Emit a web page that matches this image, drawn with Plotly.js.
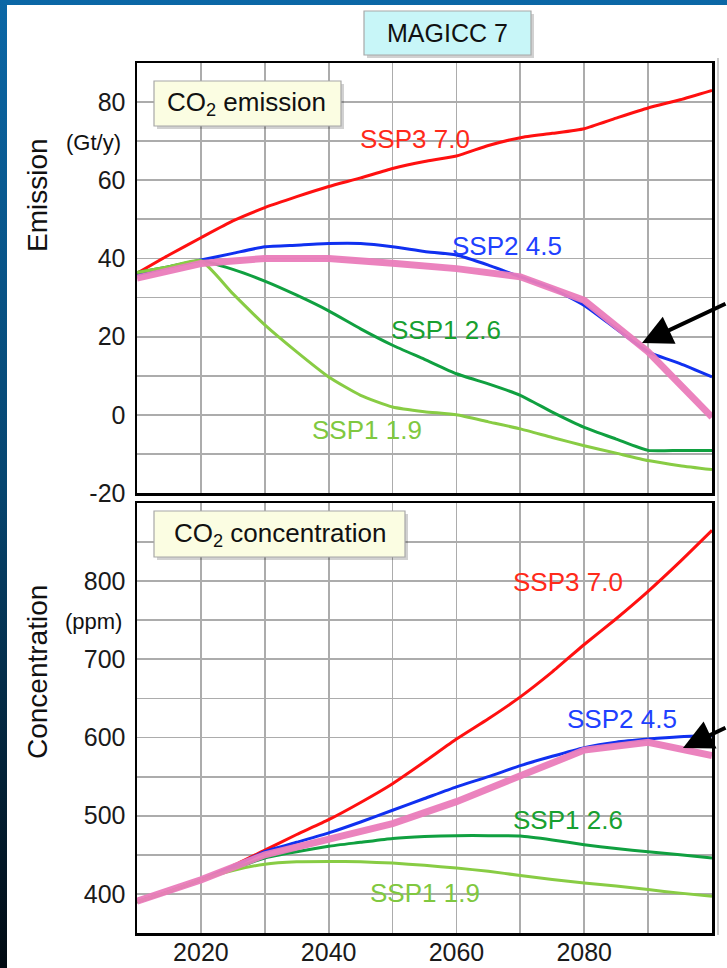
<!DOCTYPE html>
<html>
<head>
<meta charset="utf-8">
<script src="https://cdn.plot.ly/plotly-3.0.1.min.js"></script>
<style>
html,body{margin:0;padding:0;width:727px;height:968px;overflow:hidden;}
body{background:linear-gradient(to bottom,#0b67a6 0%,#06456f 50%,#010a12 100%);position:relative;}
#paper{position:absolute;left:7px;top:5px;width:720px;height:963px;background:#fff;}
#chart{position:absolute;left:0;top:0;width:727px;height:968px;}
</style>
</head>
<body>
<div id="paper"></div>
<div id="chart"></div>
<script>
// ---- data ----
const years = [2010,2015,2020,2025,2030,2035,2040,2045,2050,2055,2060,2065,2070,2075,2080,2085,2090,2095,2100];
const years10 = [2010,2020,2030,2040,2050,2060,2070,2080,2090,2100];
const xTickVals = [2020,2040,2060,2080];
const emiTickVals = [-20,0,20,40,60,80];
const emiTickText = ['-20','0','20','40','60','80'];
const conTickVals = [400,500,600,700,800];

// CO2 emission (Gt/y)
const emiSSP370 = [36.2,40.9,45.3,49.6,53.0,55.8,58.4,60.6,63.0,64.8,66.2,68.9,70.9,72.0,73.2,75.9,78.5,80.6,83.0];
const emiSSP245 = [35.8,37.8,39.6,41.3,43.0,43.4,43.8,43.8,43.0,41.8,40.9,38.3,35.3,32.3,28.0,22.0,16.1,13.1,9.7];
const emiSSP126 = [36.4,37.9,39.4,37.2,34.2,30.6,26.6,22.0,17.8,14.2,10.5,7.9,5.0,0.7,-3.2,-6.2,-9.1,-9.1,-9.1];
const emiSSP119 = [36.4,37.9,39.4,31.0,23.0,16.1,9.7,5.0,2.0,0.8,0.0,-1.8,-3.6,-5.8,-7.9,-9.8,-11.7,-13.0,-14.0];
const emiOther  = [35.0,38.7,40.0,40.0,38.8,37.4,35.3,29.3,16.1,-0.6];

// CO2 concentration (ppm)
const conSSP370 = [390,403,418,436,456,476,495,517,541,569,598,624,652,684,719,752,787,825,865];
const conSSP245 = [390,403,418,435,454,466,478,492,507,522,537,550,564,576,587,594,598,601,602.5];
const conSSP126 = [390,403,418,432,446,454,461,466,471,473.5,474.5,474.5,474,469,463,458,454,450,446];
const conSSP119 = [390,403,418,430,438,441,441.5,441,439.4,436.5,433,429,423.5,418.5,414,410,405.5,401,397];
const conOther  = [390.7,418,450,469,490,518,550,584,594,577];

const scenarioNames = ['SSP3 7.0','SSP2 4.5','SSP1 2.6','SSP1 1.9'];
const emiLabelPos = [[2053.5,70.5],[2067.9,43.3],[2058.4,21.8],[2046,-3.8]];
const conLabelPos = [[2077.4,798.6],[2085.9,624.3],[2077.4,494.5],[2055.1,401.7]];

// ---- style ----
const lineColors = ['#ff1010','#1030f0','#10a040','#88cc44'];
const textColors = ['#ff2a1a','#2040ff','#18a030','#80c840'];
const pink = '#ea7cbb';
const FONT = 'Liberation Sans, Arial, Helvetica, sans-serif';

const W = 727, H = 968;
const px = x => x / W;
const py = y => 1 - y / H;

const emiSeries = [emiSSP370, emiSSP245, emiSSP126, emiSSP119];
const conSeries = [conSSP370, conSSP245, conSSP126, conSSP119];

const traces = [];
emiSeries.forEach((s,i)=>traces.push({x:years,y:s,xaxis:'x',yaxis:'y',type:'scatter',mode:'lines',
  line:{color:lineColors[i],width:3,shape:'spline',smoothing:0.5},hoverinfo:'skip',showlegend:false}));
traces.push({x:years10,y:emiOther,xaxis:'x',yaxis:'y',type:'scatter',mode:'lines',
  line:{color:pink,width:7},opacity:0.95,hoverinfo:'skip',showlegend:false});
conSeries.forEach((s,i)=>traces.push({x:years,y:s,xaxis:'x2',yaxis:'y2',type:'scatter',mode:'lines',
  line:{color:lineColors[i],width:3,shape:'spline',smoothing:0.5},hoverinfo:'skip',showlegend:false}));
traces.push({x:years10,y:conOther,xaxis:'x2',yaxis:'y2',type:'scatter',mode:'lines',
  line:{color:pink,width:7},opacity:0.95,hoverinfo:'skip',showlegend:false});

const grid = '#acacac';
const GW = 1.8;
const xdom = [px(137), px(712)];
const common = {showline:true,mirror:true,linecolor:'#000',linewidth:2.5,zeroline:false,showgrid:true,
  gridcolor:grid,gridwidth:GW,ticks:'',tickfont:{family:FONT,size:25,color:'#1a1a1a'}};
const xCommon = Object.assign({},common,{domain:xdom,range:[2010,2100],tickmode:'array',tickvals:xTickVals,
  minor:{tickmode:'linear',tick0:2010,dtick:10,showgrid:true,gridcolor:grid,gridwidth:GW}});

const annotations = [];
scenarioNames.forEach((n,i)=>{
  annotations.push({xref:'x',yref:'y',x:emiLabelPos[i][0],y:emiLabelPos[i][1],text:n,showarrow:false,
    font:{family:FONT,size:26,color:textColors[i]}});
  annotations.push({xref:'x2',yref:'y2',x:conLabelPos[i][0],y:conLabelPos[i][1],text:n,showarrow:false,
    font:{family:FONT,size:26,color:textColors[i]}});
});
const paperText = (x,y,t,size,extra)=>Object.assign({xref:'paper',yref:'paper',x:px(x),y:py(y),text:t,showarrow:false,
  xanchor:'center',yanchor:'middle',font:{family:FONT,size:size,color:'#111'}},extra||{});
annotations.push(paperText(447.5,33,'MAGICC 7',25));
annotations.push(paperText(247,104,'CO<sub>2</sub> emission',26));
annotations.push(paperText(279.5,534,'CO<sub>2</sub> concentration',26));
annotations.push(paperText(93.5,143,'(Gt/y)',22));
annotations.push(paperText(93,621,'(ppm)',22));
annotations.push(paperText(37,195,'Emission',28,{textangle:-90}));
annotations.push(paperText(37,672,'Concentration',28,{textangle:-90}));
// arrows
annotations.push({xref:'paper',yref:'paper',x:px(642),y:py(343),ax:85,ay:-40,axref:'pixel',ayref:'pixel',
  text:'',showarrow:true,arrowhead:2,arrowsize:1.5,arrowwidth:4,arrowcolor:'#000',standoff:0});
annotations.push({xref:'paper',yref:'paper',x:px(683),y:py(748),ax:44,ay:-21,axref:'pixel',ayref:'pixel',
  text:'',showarrow:true,arrowhead:2,arrowsize:1.5,arrowwidth:4,arrowcolor:'#000',standoff:0});

const box = (x0,y0,x1,y1,fill)=>[
  {type:'rect',xref:'paper',yref:'paper',x0:px(x0+3),x1:px(x1+3),y0:py(y1+3),y1:py(y0+3),
   fillcolor:'rgba(0,0,0,0.18)',line:{width:0},layer:'above'},
  {type:'rect',xref:'paper',yref:'paper',x0:px(x0),x1:px(x1),y0:py(y1),y1:py(y0),
   fillcolor:fill,line:{color:'#a8a8a8',width:1.2},layer:'above'}];
const shapes = [].concat(
  box(364,11,531,55,'#c8f6f8'),
  box(154,81,341,126,'#fbfde2'),
  box(154,511,405,557,'#fbfde2'),
  [{type:'line',xref:'paper',yref:'paper',x0:px(718),x1:px(718),y0:py(935),y1:py(58),line:{color:'#b8b8b8',width:1.5}}]
);

const layout = {
  width:W,height:H,margin:{l:0,r:0,t:0,b:0},
  paper_bgcolor:'rgba(0,0,0,0)',plot_bgcolor:'rgba(0,0,0,0)',showlegend:false,
  font:{family:FONT},
  xaxis:Object.assign({},xCommon,{anchor:'y',showticklabels:false,matches:'x2'}),
  xaxis2:Object.assign({},xCommon,{anchor:'y2',showticklabels:true,ticklabelstandoff:-5}),
  yaxis:Object.assign({},common,{domain:[py(493),py(63)],anchor:'x',range:[-20,90],tickmode:'array',tickvals:emiTickVals,
    ticktext:emiTickText,ticklabelstandoff:4,minor:{tickmode:'linear',tick0:-20,dtick:10,showgrid:true,gridcolor:grid,gridwidth:GW}}),
  yaxis2:Object.assign({},common,{domain:[py(933),py(503)],anchor:'x2',range:[350,900],tickmode:'array',tickvals:conTickVals,
    ticklabelstandoff:4,minor:{tickmode:'linear',tick0:350,dtick:50,showgrid:true,gridcolor:grid,gridwidth:GW}}),
  annotations:annotations,
  shapes:shapes
};
Plotly.newPlot('chart',traces,layout,{staticPlot:true,displayModeBar:false});
</script>
</body>
</html>
